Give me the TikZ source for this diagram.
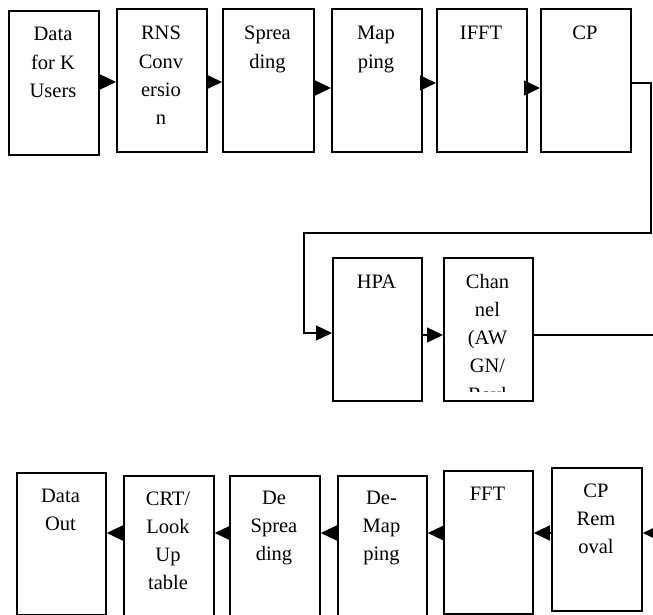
\documentclass[tikz,border=0pt]{standalone}
\usepackage{fontspec}
\setmainfont{Liberation Serif}
\usetikzlibrary{arrows.meta}

% top-aligned, centred label text; its baseline is the first line
\newcommand{\blocktext}[1]{\parbox[t]{88pt}{\centering\fontsize{20.5}{28.3}\selectfont #1}}

\tikzset{
  block/.style={draw, rectangle, line width=1.8pt, inner sep=0pt, anchor=north west},
  caption/.style={anchor=base, inner sep=0pt},
  flow/.style={line width=1.3pt, -{Triangle[length=16pt,width=15pt]}},
}

\begin{document}
\begin{tikzpicture}[x=1pt, y=-1pt]
\useasboundingbox (0,0) rectangle (653,615);
\clip (0,0) rectangle (653,615);

% ---------- transmitter ----------
\node[block, minimum width=90pt, minimum height=144pt] (d1) at (8,10) {};
\node[block, minimum width=90pt, minimum height=143pt] (d2) at (116,8) {};
\node[block, minimum width=91pt, minimum height=143pt] (d3) at (222,8) {};
\node[block, minimum width=90pt, minimum height=143pt] (d4) at (331,8) {};
\node[block, minimum width=90pt, minimum height=143pt] (d5) at (436,8) {};
\node[block, minimum width=90pt, minimum height=143pt] (d6) at (540,8) {};

\node[caption] (d1t) at (53,41)  {\blocktext{Data\\for K\\Users}};
\node[caption] (d2t) at (161,40) {\blocktext{RNS\\Conv\\ersio\\n}};
\node[caption] (d3t) at (267.5,40) {\blocktext{Sprea\\ding}};
\node[caption] (d4t) at (376,40) {\blocktext{Map\\ping}};
\node[caption] (d5t) at (481,40) {\blocktext{IFFT}};
\node[caption] (d6t) at (585,40) {\blocktext{CP}};

% ---------- amplifier and channel ----------
\node[block, minimum width=89pt, minimum height=143pt] (hpa) at (332,257) {};
\node[block, minimum width=89pt, minimum height=143pt] (ch) at (443,257) {};
\node[caption] (hpat) at (376.5,288) {\blocktext{HPA}};
\begin{scope}
  \clip (443,257) rectangle (532,391);
  \node[caption] (cht) at (487.5,288) {\blocktext{Chan\\nel\\(AW\\GN/\\Rayl}};
\end{scope}

% ---------- receiver ----------
\node[block, minimum width=89pt, minimum height=142pt] (r1) at (16,472) {};
\node[block, minimum width=90pt, minimum height=160pt] (r2) at (123,475) {};
\node[block, minimum width=90pt, minimum height=160pt] (r3) at (229,475) {};
\node[block, minimum width=89pt, minimum height=160pt] (r4) at (337,475) {};
\node[block, minimum width=89pt, minimum height=143pt] (r5) at (443,470) {};
\node[block, minimum width=90pt, minimum height=143pt] (r6) at (551,467) {};

\node[caption] (r1t) at (60.5,502) {\blocktext{Data\\Out}};
\node[caption] (r2t) at (168,505) {\blocktext{CRT/\\Look\\Up\\table}};
\node[caption] (r3t) at (274,504) {\blocktext{De\\Sprea\\ding}};
\node[caption] (r4t) at (381.5,504) {\blocktext{De-\\Map\\ping}};
\node[caption] (r5t) at (487.5,500) {\blocktext{FFT}};
\node[caption] (r6t) at (596,497) {\blocktext{CP\\Rem\\oval}};

% ---------- connector levels and bends ----------
\coordinate (ya) at (0,82);
\coordinate (yb) at (0,88);
\coordinate (yc) at (0,83);
\coordinate (yd) at (0,335);
\coordinate (ye) at (0,533);
\coordinate (k1) at (651,83);
\coordinate (k2) at (651,233);
\coordinate (k3) at (304,233);
\coordinate (k4) at (304,333);
\coordinate (k5) at (662,335);
\coordinate (k6) at (662,533);

% ---------- connectors ----------
\draw[flow] (d1.east |- ya) -- (d2.west |- ya);
\draw[flow] (d2.east |- ya) -- (d3.west |- ya);
\draw[flow] (d3.east |- yb) -- (d4.west |- yb);
\draw[flow] (d4.east |- yc) -- (d5.west |- yc);
\draw[flow] (d5.east |- yb) -- (d6.west |- yb);
\draw[flow] (d6.east |- k1) -- (k1) -- (k2) -- (k3) -- (k4) -- (hpa.west |- k4);
\draw[flow] (hpa.east |- yd) -- (ch.west |- yd);
\draw[flow] (ch.east |- k5) -- (k5) -- (k6) -- (r6.east |- k6);
\draw[flow] (r6.west |- ye) -- (r5.east |- ye);
\draw[flow] (r5.west |- ye) -- (r4.east |- ye);
\draw[flow] (r4.west |- ye) -- (r3.east |- ye);
\draw[flow] (r3.west |- ye) -- (r2.east |- ye);
\draw[flow] (r2.west |- ye) -- (r1.east |- ye);
\end{tikzpicture}
\end{document}
